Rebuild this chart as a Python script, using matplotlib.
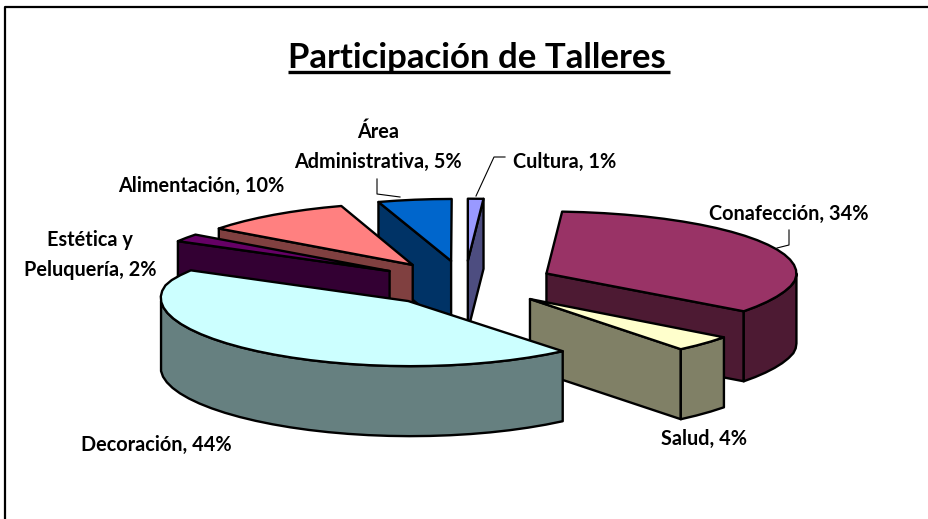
"""Exploded 3D pie of workshop participation, projected by hand onto a flat axes."""

import matplotlib

matplotlib.use("Agg")
import matplotlib.pyplot as plt
import numpy as np
from matplotlib.colors import to_rgb
from matplotlib.patches import Polygon

# clockwise from 12 o'clock
categories = [
    "Cultura",
    "Conafección",
    "Salud",
    "Decoración",
    "Estética y\nPeluquería",
    "Alimentación",
    "Área\nAdministrativa",
]
shares = [1, 34, 4, 44, 2, 10, 5]
colors = ["#9999FF", "#993366", "#FFFFCC", "#CCFFFF", "#660066", "#FF8080", "#0066CC"]

# back to front, so nearer slices cover the ones behind
draw_order = [0, 6, 5, 4, 1, 2, 3]

# label anchor (x, baseline y, ha) per category
label_pos = [
    (513, 168, "left"),
    (709, 220, "left"),
    (661, 445, "left"),
    (81, 451, "left"),
    (90, 276, "center"),
    (118, 192, "left"),
    (378, 168, "center"),
]

leaders = [
    ([476, 494, 505], [196, 157, 157]),
    ([777, 789, 789], [248, 245, 230]),
    ([377, 377, 400], [179, 194, 197]),
]

CX, CY = 465.0, 283.0
RX, RY = 250.0, 62.0
DEPTH = 70.0
EXPLODE = 0.36
ARC_STEP = 5.0
EDGE = 1.7
PINCH = 0.04  # rough stand-in for the perspective of the original
NEAR_STRETCH = 1.05


def ellipse_point(theta_deg):
    """Offset on the pie ellipse for an angle clockwise from 12 o'clock."""
    t = np.radians(theta_deg)
    return np.array([RX * np.sin(t), -RY * np.cos(t)])


def project(pts):
    """Narrow the pie away from its centre line and stretch the near half."""
    out = np.array(pts, dtype=float)
    dx = out[:, 0] - CX
    dy = out[:, 1] - CY
    pinched = (dy > 0) | (dx < 0)
    dx[pinched] *= 1 - PINCH * np.abs(dy[pinched]) / RY
    dy[dy > 0] *= NEAR_STRETCH
    return np.column_stack([CX + dx, CY + dy])


def add_face(ax, pts, color, z):
    ax.add_patch(
        Polygon(pts, closed=True, facecolor=color, edgecolor="black",
                linewidth=EDGE, joinstyle="round", zorder=z)
    )


def wall(pts):
    """Extrude a polyline straight down the screen."""
    pts = project(pts)
    return np.vstack([pts, pts[::-1] + [0, DEPTH]])


def draw_slice(ax, start, end, color, z):
    apex = np.array([CX, CY]) + EXPLODE * ellipse_point((start + end) / 2)
    n = max(2, int(np.ceil((end - start) / ARC_STEP)) + 1)
    rim = np.array([apex + ellipse_point(a) for a in np.linspace(start, end, n)])
    dark = tuple(c * 0.5 for c in to_rgb(color))

    # radial walls face the viewer only on these sides of the pie
    if 180 < start < 360:
        add_face(ax, wall([apex, rim[0]]), dark, z)
    if 0 < end < 180:
        add_face(ax, wall([apex, rim[-1]]), dark, z)

    # outer wall, only the part on the near half
    lo, hi = max(start, 90), min(end, 270)
    if hi > lo:
        m = max(2, int(np.ceil((hi - lo) / ARC_STEP)) + 1)
        arc = np.array([apex + ellipse_point(a) for a in np.linspace(lo, hi, m)])
        add_face(ax, wall(arc), dark, z)

    add_face(ax, project(np.vstack([apex, rim])), color, z + 0.5)


def main():
    plt.rcParams["font.family"] = ["Lato", "DejaVu Sans"]
    fig = plt.figure(figsize=(9.29, 5.19), dpi=100)
    ax = fig.add_axes([0, 0, 1, 1])
    ax.set_xlim(0, 929)
    ax.set_ylim(519, 0)
    ax.axis("off")

    # chart frame, cut off on the right and at the bottom
    ax.plot([5, 5, 929], [519, 7, 7], color="black", linewidth=1.6, zorder=1)

    edges = np.concatenate([[0], np.cumsum(shares)]) * 3.6
    for rank, i in enumerate(draw_order):
        draw_slice(ax, edges[i], edges[i + 1], colors[i], 10 + rank)

    for xs, ys in leaders:
        ax.plot(xs, ys, color="black", linewidth=0.8, zorder=5)

    for name, share, (x, y, ha) in zip(categories, shares, label_pos):
        ax.text(x, y, f"{name}, {share}%", ha=ha, va="baseline", fontsize=14.3,
                fontweight="bold", color="black", linespacing=1.65, zorder=40)

    ax.text(288, 68, "Participación de Talleres", ha="left", va="baseline",
            fontsize=25, fontweight="bold", color="black", zorder=40)
    ax.plot([288, 670], [71.5, 71.5], color="black", linewidth=2.4,
            solid_capstyle="butt", zorder=40)

    fig.savefig("out.png", dpi=100)


if __name__ == "__main__":
    main()
